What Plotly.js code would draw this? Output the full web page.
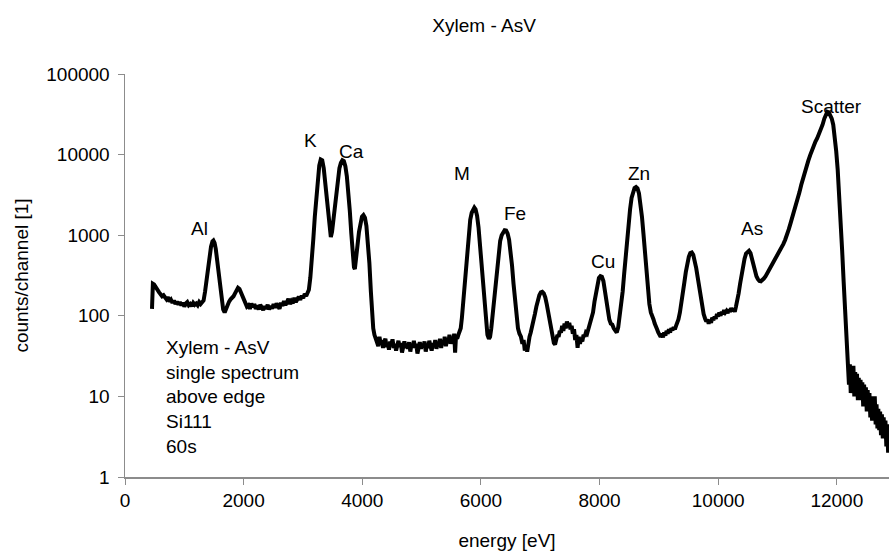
<!DOCTYPE html>
<html>
<head>
<meta charset="utf-8">
<script src="https://cdn.plot.ly/plotly-3.0.1.min.js"></script>
<style>html,body{margin:0;padding:0;background:#fff;}#chart{width:889px;height:556px;}</style>
</head>
<body>
<div id="chart"></div>
<script>
// energy [eV]
const energy = [
455,470,490,510,530,550,575,600,625,650,675,700,725,750,775,800,825,850,875,900,925,950,975,1000,1025,1050,1075,1100,1125,1150,1175,1200,1225,1250,1275,1300,1325,
1350,1375,1400,1425,1450,1475,1490,1510,1530,1555,1580,1605,1630,1655,1680,1705,1730,1755,1780,1805,1830,1855,1880,1905,1930,1955,1980,2005,2030,2055,
2080,2105,2130,2155,2180,2205,2230,2255,2280,2305,2330,2355,2380,2405,2430,2455,2480,2505,2530,2555,2580,2605,2630,2655,2680,2705,2730,2755,2780,2805,2830,2855,2880,2905,2930,2955,2980,3005,3030,3055,3080,3100,
3125,3150,3175,3200,3225,3250,3275,3300,3325,3350,3375,3400,3425,3450,3470,3490,3515,3540,3565,3590,3615,3640,3665,3690,3715,3740,3765,3790,3815,3840,3860,3875,3895,3920,3945,3970,3995,4020,4045,4070,4095,4120,4145,4165,4185,4205,4225,
4250,4270,4290,4310,4330,4350,4370,4390,4410,4430,4450,4470,4490,4510,4530,4550,4570,4590,4610,4630,4650,4670,4690,4710,4730,4750,4770,4790,4810,4830,4850,4870,4890,4910,4930,4950,4970,4990,5010,5030,5050,5070,5090,5110,5130,5150,5170,5190,5210,5230,5250,5270,5290,5310,5330,5350,5370,5390,5410,5430,5450,5470,5490,5510,5530,5550,5565,5580,5600,5620,5640,
5660,5680,5700,5720,5740,5760,5780,5800,5820,5845,5870,5890,5910,5935,5960,5985,6010,6035,6060,6085,6110,6135,6155,6175,6200,6225,6250,6275,6300,6325,6350,6375,6400,6425,6450,6475,6500,6525,6550,6575,6600,6625,6650,6675,6700,6720,6740,6760,6780,6800,6820,6840,
6860,6885,6910,6935,6960,6985,7010,7035,7060,7085,7110,7135,7160,7185,7210,7230,7250,7270,7290,7310,7330,
7350,7370,7390,7410,7430,7450,7470,7490,7510,7530,7550,7570,7590,7610,7630,7650,7670,7690,7710,7730,7750,7770,7790,7810,7830,7850,7870,
7890,7915,7940,7965,7990,8015,8040,8065,8090,8115,8140,8165,8190,8215,8240,8265,8290,8315,8340,
8365,8390,8415,8440,8465,8490,8515,8540,8565,8590,8615,8640,8665,8690,8715,8740,8765,8790,8815,8840,8865,8890,8910,8930,8950,8970,8990,9010,9030,9050,9070,9090,9110,9130,9150,9170,9190,9210,9230,9250,9270,9290,9310,
9330,9355,9380,9405,9430,9455,9480,9505,9530,9555,9580,9605,9630,9655,9680,9705,9730,9755,9780,9800,9820,9840,9860,9880,9900,9920,9940,9960,9980,10000,10020,10040,10060,10080,10100,10120,10140,10160,10180,10200,10220,10240,10260,10280,10300,
10320,10345,10370,10395,10420,10445,10470,10495,10520,10545,10570,10595,10620,10645,10670,10695,10720,10745,10770,10800,10830,10860,10890,10920,10950,10980,11010,11040,11070,11100,11130,11160,11190,11220,11250,11280,11310,11340,11370,11400,11430,11460,11490,11520,11550,11580,11610,11640,11670,11700,11730,11760,11790,11815,11840,
11865,11890,11915,11940,11965,11990,12015,12040,12065,12090,12115,12140,12160,12175,
12190,12205,12220,12235,12250,12265,12280,12295,12310,12325,12340,12355,12370,12385,12400,12415,12430,12445,12460,12475,12490,12505,12520,12535,12550,12565,12580,12595,12610,12625,12640,12655,12670,12685,12700,12715,12730,12745,12760,12775,12790,12805,12820,12835,12850,12865,12880
];
// counts/channel
const counts = [
122,250,245,230,215,205,195,185,175,180,165,160,170,150,158,145,155,140,150,138,148,135,145,130,142,148,135,140,132,145,137,142,135,148,140,145,155,
200,280,400,560,720,840,860,800,680,480,320,210,150,120,110,125,140,150,160,165,175,190,210,222,215,195,170,150,140,130,
135,122,142,128,140,122,134,120,137,126,118,132,122,137,120,132,123,140,126,142,128,122,145,133,152,136,147,162,140,152,143,167,148,160,172,158,177,166,187,176,197,210,
300,480,900,1700,3000,5000,7300,8700,8500,6800,4500,2700,1600,1050,950,1100,1600,2500,3800,5300,6800,7900,8500,8300,7200,5400,3500,2000,1050,580,400,380,480,750,1100,1450,1700,1780,1650,1300,850,450,200,110,70,58,52,
48,42,55,45,50,40,47,52,41,46,38,48,44,51,40,45,37,43,49,41,46,35,44,48,40,45,39,47,36,44,41,49,40,45,34,43,47,39,45,41,48,36,44,40,49,42,37,46,41,50,39,45,42,52,40,48,44,55,42,50,46,58,45,52,48,60,35,55,52,58,62,
70,95,140,220,360,560,850,1200,1550,1900,2150,2200,2100,1750,1250,750,420,220,120,75,58,52,55,70,110,180,290,450,650,850,1000,1100,1150,1140,1050,880,650,420,250,150,95,70,60,55,45,50,37,42,36,48,55,62,
70,85,105,130,155,180,195,198,190,170,140,110,85,65,52,46,44,50,58,55,65,
62,75,65,80,70,85,72,82,68,75,60,68,50,58,40,55,45,52,48,58,55,62,60,68,72,80,90,
110,150,200,255,295,310,305,270,210,150,110,90,80,78,70,65,62,72,95,
130,200,330,550,900,1400,2100,2900,3500,3850,3950,3800,3300,2500,1700,1050,600,350,210,140,110,100,90,80,75,68,62,58,55,60,54,62,57,65,60,68,62,70,66,72,68,75,80,
90,110,140,190,260,350,450,540,600,610,570,490,390,300,230,170,130,105,92,85,90,80,88,82,95,88,98,92,105,98,110,100,112,105,118,110,115,108,120,112,125,115,122,112,130,
150,190,250,330,420,510,590,630,640,600,500,410,350,310,285,270,268,275,290,310,340,370,400,440,480,520,570,630,700,780,880,1000,1180,1400,1650,1950,2300,2800,3400,4200,5100,6100,7200,8400,9800,11500,13000,14500,16000,18000,20500,23500,28000,32000,34000,
33500,31000,28000,23500,17000,11000,6500,3300,1500,650,270,110,55,38,
28,14,25,11,22,14,24,10,20,13,19,9,17,9,16,10,15,7.5,14,8.5,13,6.5,12,7.5,11,5.5,10,5,9,5.5,10,4.5,8,4,7,3.8,6.5,3.3,6,3,5.5,3.3,5,2.4,4.5,2,4
];
// peak labels
const peakLabels = ["Al","K","Ca","M","Fe","Cu","Zn","As","Scatter"];
const peakLabelEnergy = [1256,3135,3826,5689,6573,8062,8658,10563,11916];
const peakLabelCounts = [1220,14800,11000,5900,1850,470,5800,1200,40000];
// axis ticks
const yTickVals = [1,10,100,1000,10000,100000];
const yTickText = ["1","10","100","1000","10000","100000"];
const xTickVals = [0,2000,4000,6000,8000,10000,12000];
const infoLines = ["Xylem - AsV","single spectrum","above edge","Si111","60s"];

const FONT = "Liberation Sans, Arial, sans-serif";
const FS = 19;
const axisGray = "#8c8c8c";

const annotations = peakLabels.map((t, i) => ({
  text: t, x: peakLabelEnergy[i], y: Math.log10(peakLabelCounts[i]),
  xref: "x", yref: "y", showarrow: false,
  xanchor: "center", yanchor: "middle",
  font: {family: FONT, size: FS, color: "#000"}
}));
annotations.push({
  text: infoLines.join("<br>"),
  x: 0.051, y: 0.352, xref: "paper", yref: "paper",
  xanchor: "left", yanchor: "top", align: "left", showarrow: false,
  font: {family: FONT, size: FS, color: "#000"}
});

const trace = {
  x: energy, y: counts, type: "scatter", mode: "lines",
  line: {color: "#000", width: 4},
  hoverinfo: "skip"
};

const layout = {
  width: 889, height: 556,
  margin: {l: 125, r: 0, t: 74, b: 79, pad: 0},
  paper_bgcolor: "#fff", plot_bgcolor: "#fff",
  showlegend: false,
  font: {family: FONT, size: FS, color: "#000"},
  title: {text: "Xylem - AsV", x: 0.47, xref: "paper", xanchor: "center",
          y: 1 - 25/556, yref: "container", yanchor: "middle",
          font: {family: FONT, size: FS, color: "#000"}},
  xaxis: {
    range: [0, 12880], tickvals: xTickVals, ticktext: xTickVals.map(String),
    ticks: "outside", ticklen: 6, tickcolor: axisGray, tickwidth: 1,
    showline: true, linecolor: axisGray, linewidth: 1.5,
    showgrid: false, zeroline: false,
    tickfont: {family: FONT, size: FS, color: "#000"},
    title: {text: "energy [eV]", standoff: 23, font: {family: FONT, size: FS, color: "#000"}}
  },
  yaxis: {
    type: "log", range: [0, 5], tickvals: yTickVals, ticktext: yTickText,
    ticks: "outside", ticklen: 6, tickcolor: axisGray, tickwidth: 1,
    ticklabelstandoff: 4,
    showline: true, linecolor: axisGray, linewidth: 1.5,
    showgrid: false, zeroline: false,
    tickfont: {family: FONT, size: FS, color: "#000"},
    title: {text: "counts/channel [1]", standoff: 12, font: {family: FONT, size: FS, color: "#000"}}
  },
  annotations: annotations
};

Plotly.newPlot("chart", [trace], layout, {staticPlot: true, displayModeBar: false});
</script>
</body>
</html>
